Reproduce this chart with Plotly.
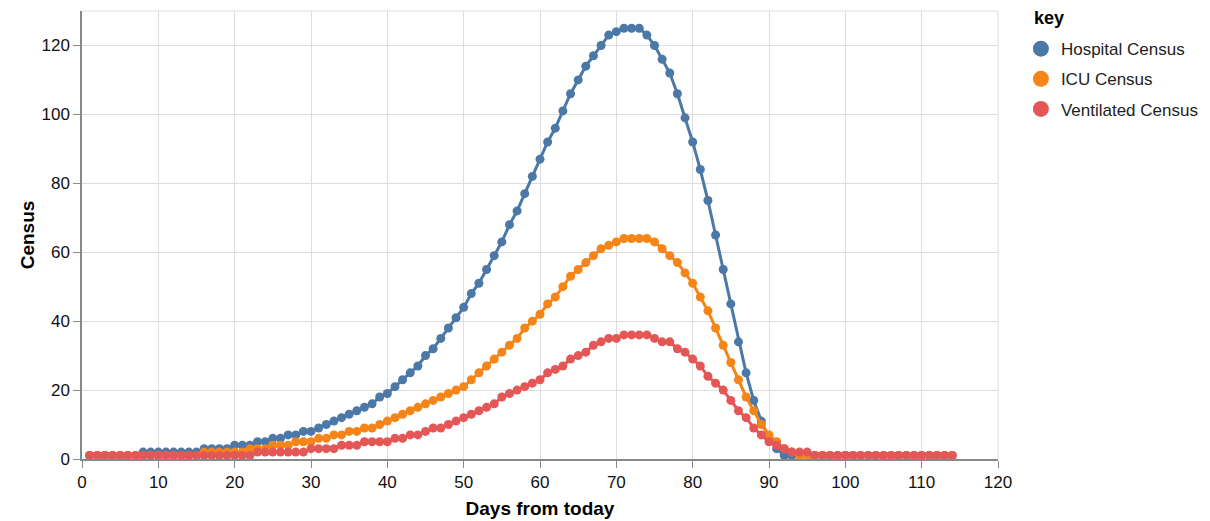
import plotly.graph_objects as go

days = list(range(1, 115))

hospital = (
    [1] * 7 + [2] * 8 + [3] * 4 + [4] * 3 +
    [5, 5, 6, 6, 7, 7, 8, 8, 9, 10, 11, 12, 13, 14, 15, 16, 18, 19,   # 23-40
     21, 23, 25, 27, 30, 32, 35, 38, 41, 44,                           # 41-50
     48, 51, 55, 59, 63, 68, 72, 77, 82, 87,                           # 51-60
     92, 96, 101, 106, 110, 114, 117, 120, 123, 124,                   # 61-70
     125, 125, 125, 123, 120, 116, 112, 106, 99, 92,                   # 71-80
     84, 75, 65, 55, 45, 34, 25, 17, 11, 6,                            # 81-90
     3, 1] + [1] * 22                                                   # 91-114
)

icu = (
    [1] * 15 + [2] * 6 +
    [3, 3, 3, 4, 4, 4, 5, 5, 5, 6, 6, 7, 7, 8, 8, 9, 9, 10, 11,        # 22-40
     12, 13, 14, 15, 16, 17, 18, 19, 20, 21,                           # 41-50
     23, 25, 27, 29, 31, 33, 35, 38, 40, 42,                           # 51-60
     45, 47, 50, 53, 55, 57, 59, 61, 62, 63,                           # 61-70
     64, 64, 64, 64, 63, 61, 59, 57, 54, 51,                           # 71-80
     47, 43, 38, 33, 28, 23, 18, 14, 10, 7,                            # 81-90
     5, 3, 2, 1] + [1] * 20                                             # 91-114
)

ventilated = (
    [1] * 22 + [2] * 7 + [3] * 4 + [4] * 3 + [5] * 4 +                  # 1-40
    [6, 6, 7, 7, 8, 9, 9, 10, 11, 12,                                  # 41-50
     13, 14, 15, 16, 18, 19, 20, 21, 22, 23,                           # 51-60
     25, 26, 27, 29, 30, 31, 33, 34, 35, 35,                           # 61-70
     36, 36, 36, 36, 35, 34, 34, 32, 31, 29,                           # 71-80
     27, 24, 22, 20, 17, 14, 12, 9, 7, 5,                              # 81-90
     4, 3, 2, 2, 2] + [1] * 19                                          # 91-114
)

series = [
    ("Hospital Census", hospital, "#4c78a8"),
    ("ICU Census", icu, "#f58518"),
    ("Ventilated Census", ventilated, "#e45756"),
]

x_ticks = list(range(0, 121, 10))
y_ticks = list(range(0, 121, 20))

FONT = "Liberation Sans, Arial, Helvetica, sans-serif"

fig = go.Figure()
for name, vals, color in series:
    fig.add_trace(go.Scatter(
        x=days, y=vals, mode="lines+markers", name=name,
        line=dict(color=color, width=3),
        marker=dict(color=color, size=9),
        showlegend=False,
    ))
for i, (name, vals, color) in enumerate(series):
    fig.add_trace(go.Scatter(
        x=[None], y=[None], mode="markers", name=name,
        marker=dict(color=color, size=21),
        showlegend=True, legendgroup="g%d" % i,
    ))

fig.update_layout(
    width=1210, height=521,
    margin=dict(l=74, r=220, t=3, b=70),
    paper_bgcolor="white", plot_bgcolor="white",
    font=dict(family=FONT, size=17, color="#000"),
    legend=dict(
        x=1.025, xanchor="left", y=0.955, yanchor="top",
        font=dict(size=17, family=FONT, color="#222"),
        itemsizing="trace", tracegroupgap=5,
        bgcolor="rgba(0,0,0,0)",
    ),
    annotations=[
        dict(text="<b>key</b>", xref="paper", yref="paper",
             x=(1032 - 82) / 916, y=(459 - 18) / 448,
             xanchor="left", yanchor="middle", showarrow=False,
             font=dict(size=18, family=FONT, color="#000")),
    ],
    xaxis=dict(
        range=[0, 120], tickvals=x_ticks, showgrid=True, gridcolor="#dddddd",
        zeroline=False, showline=True, linecolor="#888888", linewidth=1.5,
        ticks="outside", ticklen=7, tickcolor="#888888", mirror=False,
        automargin=False,
        title=dict(text="<b>Days from today</b>", font=dict(size=19, family=FONT), standoff=11),
        tickfont=dict(size=17, family=FONT, color="#111"),
    ),
    yaxis=dict(
        range=[0, 130], tickvals=y_ticks, showgrid=True, gridcolor="#dddddd",
        zeroline=False, showline=True, linecolor="#888888", linewidth=1.5,
        ticks="outside", ticklen=7, tickcolor="#888888",
        automargin=False,
        title=dict(text="<b>Census</b>", font=dict(size=19, family=FONT), standoff=2),
        tickfont=dict(size=17, family=FONT, color="#111"),
    ),
    shapes=[
        dict(type="line", xref="paper", yref="paper", x0=0, x1=1, y0=1, y1=1,
             line=dict(color="#dddddd", width=1)),
        dict(type="line", xref="paper", yref="paper", x0=1, x1=1, y0=0, y1=1,
             line=dict(color="#dddddd", width=1)),
    ],
)

fig.write_html("out.html")
